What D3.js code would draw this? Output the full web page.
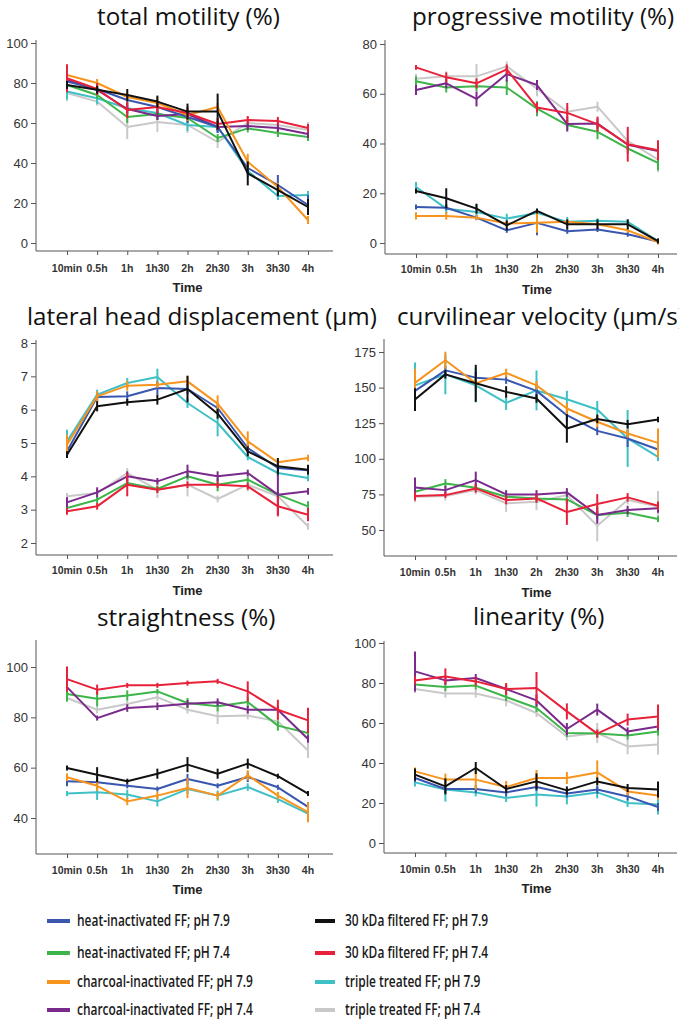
<!DOCTYPE html>
<html>
<head>
<meta charset="utf-8">
<script src="https://cdn.jsdelivr.net/npm/d3@7"></script>
<style>
  body { margin: 0; background: #fff; }
  svg { display: block; }
</style>
</head>
<body>
<div id="chart"></div>
<script>
// time points on the x axis
const times = ["10min", "0.5h", "1h", "1h30", "2h", "2h30", "3h", "3h30", "4h"];

// series keys, legend labels and colours
const seriesKeys = ["hi79", "hi74", "ch79", "ch74", "kd79", "kd74", "tt79", "tt74"];
const seriesLabels = [
  "heat-inactivated FF; pH 7.9", "heat-inactivated FF; pH 7.4",
  "charcoal-inactivated FF; pH 7.9", "charcoal-inactivated FF; pH 7.4",
  "30 kDa filtered FF; pH 7.9", "30 kDa filtered FF; pH 7.4",
  "triple treated FF; pH 7.9", "triple treated FF; pH 7.4"
];
const seriesColors = ["#3a57b0", "#3db54a", "#f7941d", "#7a2a8a", "#111111", "#e8213a", "#3fc0c6", "#c9c9c9"];
// order in which lines are painted (last on top)
const drawOrder = ["tt74", "tt79", "hi74", "ch74", "hi79", "ch79", "kd74", "kd79"];

// total motility (%)
const tmMean = {
  kd79: [79, 76.6, 74, 70.7, 65.7, 65.7, 34.8, 26.4, 18],
  ch79: [84, 80, 73, 70, 64, 68, 40.6, 28, 11.5],
  kd74: [82.4, 77, 66.5, 68, 65, 59.5, 61.5, 61, 57.5],
  hi79: [80.7, 77, 71.5, 68, 63, 58, 37.5, 29, 19],
  hi74: [79, 74, 63, 64.5, 62.5, 52.5, 57.3, 55, 53],
  ch74: [81.5, 76.5, 67, 63.5, 64.5, 58, 58.5, 57.5, 54.5],
  tt79: [75.8, 72.4, 67.4, 65, 59, 58, 36, 23.5, 24],
  tt74: [75, 70.7, 58, 60.5, 59, 50.5, 60, 59, 56.5]
};
const tmErr = {
  kd79: [2, 2, 3, 3, 4, 9, 6, 3, 4],
  ch79: [3, 2, 2, 3, 3, 2, 4, 2, 2],
  kd74: [7, 3, 4, 3, 3, 3, 2, 2, 2],
  hi79: [3, 2, 3, 3, 3, 3, 3, 5, 5],
  hi74: [3, 2, 3, 3, 2, 2, 2, 2, 2],
  ch74: [2, 2, 2, 2, 2, 2, 2, 2, 2],
  tt79: [4, 3, 3, 3, 3, 3, 3, 2, 2],
  tt74: [4, 2, 6, 5, 4, 3, 3, 3, 4]
};

// progressive motility (%)
const pmMean = {
  kd74: [70.6, 66.6, 64.2, 69.8, 54.5, 52.3, 47.8, 39.7, 37.3],
  tt74: [66, 67, 67, 71, 62, 52.8, 54.8, 41, 33.5],
  ch74: [61.5, 64.2, 57.9, 67.9, 63.5, 47.8, 48, 39.5, 37],
  hi74: [65, 62.5, 63, 62.5, 54, 47.4, 44.7, 38, 32.2],
  kd79: [20.9, 18, 13.8, 7.1, 12.9, 7.5, 7.5, 7.5, 0.8],
  tt79: [22.5, 13.8, 12.5, 9.8, 12.1, 8.5, 8.9, 8.5, 0.8],
  hi79: [14.5, 14.2, 10.2, 5.1, 8.1, 4.7, 5.4, 3.5, 0.6],
  ch79: [10.9, 10.9, 10.2, 7.8, 8.1, 8.5, 7.5, 5.1, 0.4]
};
const pmErr = {
  kd74: [1, 2, 2, 2, 2, 4, 3, 7, 4],
  tt74: [2, 2, 5, 2, 3, 2, 2, 5, 5],
  ch74: [2, 2, 3, 3, 2, 3, 2, 2, 2],
  hi74: [2, 2, 2, 3, 3, 2, 3, 2, 3],
  kd79: [1, 4, 2, 2, 1, 2, 2, 2, 1],
  tt79: [2, 2, 3, 2, 1, 2, 1, 1, 1],
  hi79: [1, 1, 1, 1, 5, 1, 1, 1, 1],
  ch79: [1.5, 1.5, 1, 1, 4, 1, 1, 1, 1]
};

// lateral head displacement (µm)
const lhMean = {
  kd79: [4.65, 6.1, 6.22, 6.3, 6.62, 5.88, 4.75, 4.3, 4.2],
  hi79: [4.75, 6.38, 6.4, 6.65, 6.62, 6.05, 4.85, 4.25, 4.18],
  ch79: [4.95, 6.4, 6.72, 6.75, 6.85, 6.18, 5.05, 4.42, 4.55],
  tt79: [5.05, 6.45, 6.8, 6.98, 6.2, 5.6, 4.58, 4.1, 3.95],
  ch74: [3.22, 3.52, 4.0, 3.85, 4.15, 4.0, 4.1, 3.45, 3.55],
  hi74: [3.05, 3.3, 3.8, 3.62, 4.0, 3.75, 3.9, 3.45, 3.1],
  kd74: [2.95, 3.1, 3.75, 3.6, 3.75, 3.75, 3.7, 3.1, 2.85],
  tt74: [3.4, 3.5, 4.1, 3.6, 3.75, 3.32, 3.75, 3.4, 2.5]
};
const lhErr = {
  kd79: [0.1, 0.15, 0.1, 0.15, 0.4, 0.15, 0.15, 0.25, 0.15],
  hi79: [0.15, 0.15, 0.15, 0.2, 0.15, 0.15, 0.15, 0.1, 0.1],
  ch79: [0.3, 0.15, 0.15, 0.1, 0.15, 0.25, 0.3, 0.1, 0.1],
  tt79: [0.35, 0.15, 0.15, 0.25, 0.15, 0.4, 0.1, 0.1, 0.1],
  ch74: [0.15, 0.15, 0.15, 0.1, 0.2, 0.15, 0.1, 0.6, 0.1],
  hi74: [0.1, 0.1, 0.1, 0.1, 0.1, 0.2, 0.1, 0.1, 0.15],
  kd74: [0.1, 0.1, 0.35, 0.1, 0.1, 0.1, 0.1, 0.3, 0.2],
  tt74: [0.1, 0.1, 0.15, 0.25, 0.35, 0.1, 0.2, 0.1, 0.1]
};

// curvilinear velocity (µm/s)
const cvMean = {
  kd79: [141.6, 159.3, 153, 147, 142.3, 121.3, 128, 124.3, 127.6],
  ch79: [153.3, 169.2, 153, 160.3, 151.6, 135.3, 126, 117.8, 111.2],
  hi79: [147.7, 162.1, 157, 155.6, 147.7, 130.6, 119.6, 114.3, 106.5],
  tt79: [151.6, 159.3, 151.6, 139.3, 148, 141.8, 134.6, 114.3, 101.4],
  ch74: [79.9, 78, 85, 75, 75, 76.4, 60.5, 64, 65.2],
  hi74: [76.9, 82.7, 79.7, 73.4, 72.2, 71.5, 60.5, 62.1, 57.7],
  kd74: [73.8, 74.5, 79.2, 71, 72.2, 62.6, 68.2, 72.9, 67],
  tt74: [73.4, 73.8, 78, 68.7, 69.9, 74.5, 53, 71, 66.4]
};
const cvErr = {
  kd79: [8, 3, 13, 4, 3, 10, 3, 3, 2],
  ch79: [10, 6, 4, 3, 3, 4, 4, 3, 10],
  hi79: [4, 3, 4, 3, 5, 4, 3, 6, 4],
  tt79: [16, 14, 12, 5, 14, 6, 6, 20, 3],
  ch74: [7, 3, 6, 3, 3, 3, 6, 3, 3],
  hi74: [3, 3, 3, 3, 3, 3, 3, 3, 2],
  kd74: [3, 2, 3, 3, 3, 9, 7, 3, 3],
  tt74: [4, 3, 3, 6, 6, 3, 11, 3, 11]
};

// straightness (%)
const stMean = {
  kd74: [95.2, 91, 92.7, 92.7, 93.6, 94.3, 90.3, 83, 78.8],
  hi74: [89.3, 87.4, 88.7, 90.3, 85.7, 84.4, 86.1, 76.7, 73.8],
  tt74: [87.7, 83, 85.3, 88, 83, 80.4, 80.7, 78.4, 66.8],
  ch74: [92, 79.7, 83.7, 84.4, 85.4, 86, 83, 83, 71.4],
  kd79: [59.9, 57.2, 54.6, 57.6, 61.2, 57.6, 61.6, 56.6, 49.7],
  hi79: [54.6, 54.2, 52.8, 51.5, 55.5, 52.8, 56.3, 52.2, 44.4],
  ch79: [56.2, 52.8, 46.6, 48.9, 51.9, 48.9, 57, 48.9, 42.3],
  tt79: [49.7, 50.2, 49.3, 46.6, 51.5, 48.9, 52.3, 47.5, 41.7]
};
const stErr = {
  kd74: [5, 2, 1, 1, 1, 1, 4, 4, 5],
  hi74: [3, 3, 2, 1, 2, 2, 2, 2, 2],
  tt74: [1.5, 1.5, 1.5, 1.5, 1.5, 3, 1.5, 2, 3],
  ch74: [1, 1, 1.5, 1.5, 1.5, 1.5, 1.5, 1.5, 1.5],
  kd79: [1, 3, 1, 2, 3, 2, 2, 1, 1],
  hi79: [2, 2, 1, 1, 2, 1, 2, 1, 2],
  ch79: [1.5, 2, 1.5, 1.5, 4, 1.5, 2, 1.5, 4],
  tt79: [1, 3, 2, 2, 2, 2, 1.5, 1.5, 3]
};

// linearity (%)
const liMean = {
  ch74: [85.8, 81.3, 82.5, 77, 71.3, 57, 66.7, 55.8, 58.3],
  kd74: [81.3, 83.3, 80.8, 77, 77.5, 65.8, 54.7, 61.7, 63.3],
  hi74: [79.2, 78, 78.7, 73, 67.5, 55, 54.7, 53.7, 55.8],
  tt74: [77, 74.7, 74.7, 71.3, 65, 53.3, 55, 48.3, 49.2],
  kd79: [34.2, 28.3, 37.5, 27, 30.8, 26.3, 30.8, 27.5, 26.7],
  ch79: [35.8, 31.7, 31.7, 28, 32.5, 32.5, 35.3, 25.8, 23.7],
  hi79: [32.5, 27, 27, 25.3, 28, 24.7, 26.7, 23.3, 18],
  tt79: [30.3, 26.7, 25.3, 22.5, 24.2, 23.3, 25.3, 20, 19.2]
};
const liErr = {
  ch74: [10, 2, 2, 2, 3, 3, 3, 2, 2],
  kd74: [2, 4, 2, 3, 8, 4, 2, 3, 6],
  hi74: [2, 2, 2, 2, 2, 2, 2, 2, 2],
  tt74: [2, 2, 2, 3, 2, 2, 5, 4, 5],
  kd79: [3, 4, 3, 2, 4, 2, 2, 2, 4],
  ch79: [2, 3, 5, 3, 4, 3, 6, 2, 2],
  hi79: [2, 2, 2, 2, 2, 2, 2, 2, 2],
  tt79: [2, 6, 2, 2, 6, 4, 3, 2, 5]
};

// y tick labels of each panel
const tmTicks = [0, 20, 40, 60, 80, 100];
const pmTicks = [0, 20, 40, 60, 80];
const lhTicks = [2, 3, 4, 5, 6, 7, 8];
const cvTicks = [50, 75, 100, 125, 150, 175];
const stTicks = [40, 60, 80, 100];
const liTicks = [0, 20, 40, 60, 80, 100];

const W = 679, H = 1022;
const svg = d3.select("#chart").append("svg")
  .attr("width", W).attr("height", H);

const colorOf = k => seriesColors[seriesKeys.indexOf(k)];

// layout of the six panels (pixel boxes + which tick values sit where)
const panels = [
  { title: "total motility (%)", tx: 97, ty: 25, mean: tmMean, err: tmErr, ticks: tmTicks,
    left: 36, right: 333, top: 40, bottom: 251, x0: 67, x1: 308, v0: 0, p0: 243, v1: 100, p1: 43, lab: 272, time: 292 },
  { title: "progressive motility (%)", tx: 412, ty: 25, mean: pmMean, err: pmErr, ticks: pmTicks,
    left: 385, right: 677, top: 40, bottom: 254, x0: 416, x1: 658, v0: 0, p0: 243, v1: 80, p1: 44, lab: 273, time: 294 },
  { title: "lateral head displacement (µm)", tx: 27, ty: 325, mean: lhMean, err: lhErr, ticks: lhTicks,
    left: 36, right: 333, top: 340, bottom: 555, x0: 67, x1: 308, v0: 2, p0: 543, v1: 8, p1: 343, lab: 574, time: 595 },
  { title: "curvilinear velocity (µm/s)", tx: 397, ty: 325, mean: cvMean, err: cvErr, ticks: cvTicks,
    left: 384, right: 677, top: 339, bottom: 556, x0: 415, x1: 658, v0: 50, p0: 530, v1: 175, p1: 352, lab: 576, time: 597 },
  { title: "straightness (%)", tx: 97, ty: 626, mean: stMean, err: stErr, ticks: stTicks,
    left: 36, right: 333, top: 640, bottom: 854, x0: 67, x1: 308, v0: 40, p0: 818, v1: 100, p1: 667, lab: 874, time: 894 },
  { title: "linearity (%)", tx: 473, ty: 625, mean: liMean, err: liErr, ticks: liTicks,
    left: 384, right: 677, top: 641, bottom: 853, x0: 415, x1: 658, v0: 0, p0: 843, v1: 100, p1: 643, lab: 873, time: 893 }
];

// helper to squeeze text horizontally so it matches a condensed face
function squeezeFactor(text, font, target) {
  const t = svg.append("text").attr("style", font).text(text);
  const w = t.node().getComputedTextLength();
  t.remove();
  return target / w;
}

const titleFont = "font-family:'Open Sans','Noto Sans',sans-serif;font-size:24px;fill:#111";
const titleScale = squeezeFactor("total motility (%)", titleFont, 183);

panels.forEach(p => {
  const g = svg.append("g");

  const x = d3.scalePoint().domain(times).range([p.x0, p.x1]);
  const y = d3.scaleLinear().domain([p.v0, p.v1]).range([p.p0, p.p1]);

  // title
  g.append("text")
    .attr("transform", `translate(${p.tx},${p.ty}) scale(${titleScale},1)`)
    .attr("style", titleFont)
    .text(p.title);

  // y axis
  const ya = g.append("g")
    .attr("transform", `translate(${p.left},0)`)
    .call(d3.axisLeft(y).tickValues(p.ticks).tickFormat(d => d)
      .tickSize(5).tickSizeOuter(0).tickPadding(3));
  ya.select(".domain").remove();
  ya.selectAll(".tick line").attr("stroke", "#555");
  ya.selectAll(".tick text")
    .attr("fill", "#333")
    .style("font-family", "'Liberation Sans', Arial, sans-serif")
    .style("font-size", "13px");

  // x axis ticks (labels drawn separately)
  const xa = g.append("g")
    .attr("transform", `translate(0,${p.bottom})`)
    .call(d3.axisBottom(x).tickSize(4).tickSizeOuter(0).tickFormat(""));
  xa.select(".domain").remove();
  xa.selectAll(".tick line").attr("stroke", "#555");

  g.append("line")
    .attr("x1", p.left).attr("x2", p.left)
    .attr("y1", p.top).attr("y2", p.bottom)
    .attr("stroke", "#555").attr("stroke-width", 1);
  g.append("line")
    .attr("x1", p.left).attr("x2", p.right)
    .attr("y1", p.bottom).attr("y2", p.bottom)
    .attr("stroke", "#555").attr("stroke-width", 1);

  // x tick labels
  g.selectAll(".xlab")
    .data(times)
    .enter().append("text")
    .attr("x", d => x(d))
    .attr("y", p.lab)
    .attr("text-anchor", "middle")
    .style("font-family", "'Liberation Sans', Arial, sans-serif")
    .style("font-weight", "bold")
    .style("font-size", "10.5px")
    .attr("fill", "#333")
    .text(d => d);

  g.append("text")
    .attr("x", (p.x0 + p.x1) / 2)
    .attr("y", p.time)
    .attr("text-anchor", "middle")
    .style("font-family", "'Liberation Sans', Arial, sans-serif")
    .style("font-weight", "bold")
    .style("font-size", "13px")
    .attr("fill", "#222")
    .text("Time");

  const line = d3.line()
    .x((d, i) => x(times[i]))
    .y(d => y(d));

  drawOrder.forEach(k => {
    const vals = p.mean[k];
    const errs = p.err[k];
    const c = colorOf(k);

    g.append("path")
      .datum(vals)
      .attr("d", line)
      .attr("fill", "none")
      .attr("stroke", c)
      .attr("stroke-width", 2)
      .attr("stroke-linejoin", "round");

    g.selectAll(null)
      .data(vals)
      .enter().append("line")
      .attr("x1", (d, i) => x(times[i]))
      .attr("x2", (d, i) => x(times[i]))
      .attr("y1", (d, i) => y(d - errs[i]))
      .attr("y2", (d, i) => y(d + errs[i]))
      .attr("stroke", c)
      .attr("stroke-width", 2);
  });
});

// legend
const legendFont = "font-family:'Open Sans','Noto Sans',sans-serif;font-size:17px;font-weight:600;fill:#1a1a1a";
const legendScale = squeezeFactor("heat-inactivated FF; pH 7.9", legendFont, 153);
const rowsY = [921, 953, 982, 1010];

seriesKeys.forEach((k, i) => {
  const col = i < 4 ? 0 : 1;
  const row = i % 4;
  const sx = col === 0 ? 47 : 315;
  const sw = col === 0 ? 23 : 20;
  const tx = col === 0 ? 77 : 345;
  const yy = rowsY[row];

  svg.append("line")
    .attr("x1", sx).attr("x2", sx + sw)
    .attr("y1", yy).attr("y2", yy)
    .attr("stroke", seriesColors[i])
    .attr("stroke-width", 4);

  svg.append("text")
    .attr("transform", `translate(${tx},${yy + 5}) scale(${legendScale},1)`)
    .attr("style", legendFont)
    .text(seriesLabels[i]);
});
</script>
</body>
</html>
